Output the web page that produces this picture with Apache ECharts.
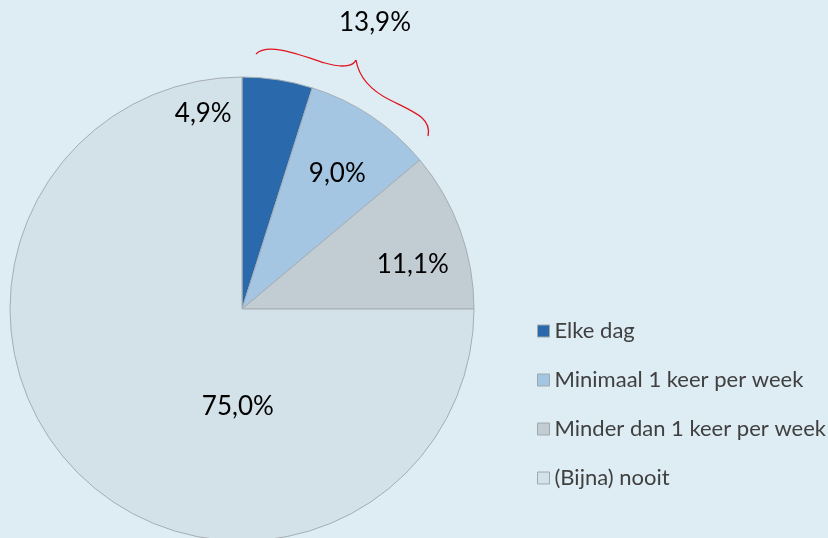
<!DOCTYPE html>
<html>
<head>
<meta charset="utf-8">
<script src="https://cdn.jsdelivr.net/npm/echarts@6/dist/echarts.min.js"></script>
<style>
  html, body { margin: 0; padding: 0; background: #deecf4; }
  #chart { width: 828px; height: 538px; }
</style>
</head>
<body>
<div id="chart"></div>
<script>
var categories = ['Elke dag', 'Minimaal 1 keer per week', 'Minder dan 1 keer per week', '(Bijna) nooit'];
var values = [4.9, 9.0, 11.1, 75.0];
var colors = ['#2a6aac', '#a4c6e2', '#c2ccd3', '#d3e1e8'];
var labelShift = [[-57, -78], [29, -37], [59, -4], [80, 13]];
var braceText = '13,9%';

var myChart = echarts.init(document.getElementById('chart'));

var pieData = [];
for (var i = 0; i < categories.length; i++) {
    pieData.push({
        name: categories[i],
        value: values[i],
        itemStyle: { color: colors[i] }
    });
}

// accolade boven de twee kleinste stukken
var braceStyle = { fill: null, stroke: '#e0141e', lineWidth: 1.3 };
var braceParts = [
    [256, 54, 268, 42, 300, 55, 325, 63],
    [325, 63, 345, 69, 354, 65, 356, 60],
    [356, 60, 358, 72, 366, 88, 390, 100],
    [390, 100, 414, 112, 432, 118, 428, 136]
];
var graphics = [];
braceParts.forEach(function (b) {
    graphics.push({
        type: 'bezierCurve',
        shape: { x1: b[0], y1: b[1], cpx1: b[2], cpy1: b[3], cpx2: b[4], cpy2: b[5], x2: b[6], y2: b[7] },
        style: braceStyle
    });
});
graphics.push({
    type: 'text',
    left: 339,
    top: 10,
    style: { text: braceText, font: '26px Lato', fill: '#000' }
});

myChart.setOption({
    backgroundColor: '#deecf4',
    animation: false,
    legend: {
        orient: 'vertical',
        left: 532,
        top: 315,
        itemWidth: 12,
        itemHeight: 12,
        itemGap: 27,
        icon: 'rect',
        data: categories,
        textStyle: { fontFamily: 'Lato', fontSize: 22, lineHeight: 20, color: '#404040' },
        itemStyle: { borderColor: '#a0a8ae', borderWidth: 1 }
    },
    graphic: graphics,
    series: [
        {
            type: 'pie',
            center: [242, 309],
            radius: [0, 232],
            startAngle: 90,
            clockwise: true,
            data: pieData,
            itemStyle: { borderColor: '#a6aeb4', borderWidth: 1 },
            label: {
                show: true,
                position: 'inside',
                formatter: function (p) { return p.value.toFixed(1).replace('.', ',') + '%'; },
                fontFamily: 'Lato',
                fontSize: 26,
                color: '#000'
            },
            labelLayout: function (p) {
                return { dx: labelShift[p.dataIndex][0], dy: labelShift[p.dataIndex][1] };
            },
            emphasis: { disabled: true }
        }
    ]
});
</script>
</body>
</html>
